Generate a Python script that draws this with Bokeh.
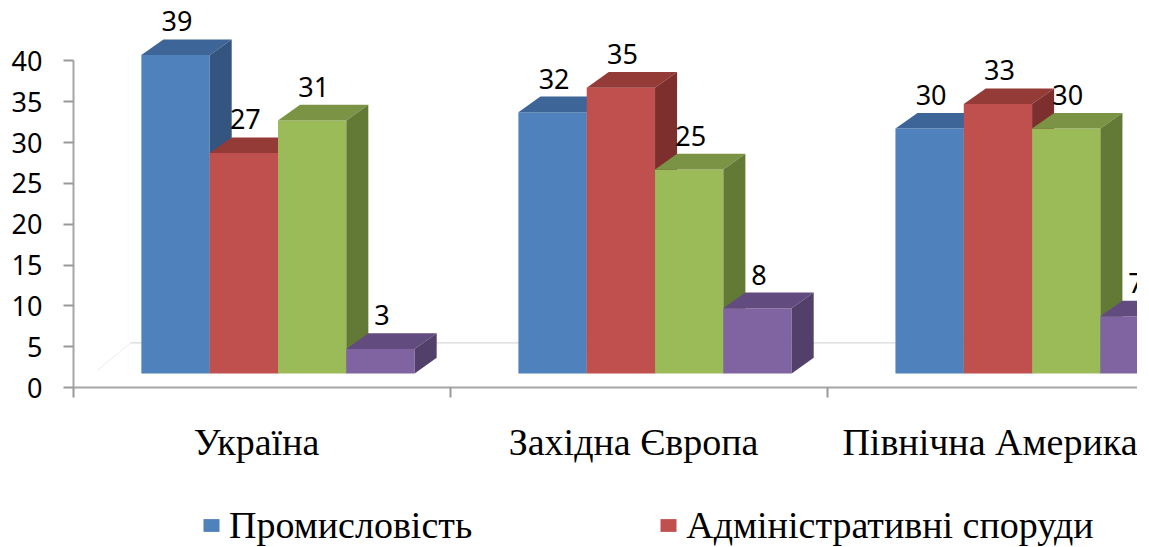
from bokeh.plotting import figure
from bokeh.layouts import column
from bokeh.models import FixedTicker, Range1d, Legend, LegendItem
from bokeh.embed import file_html
from bokeh.resources import INLINE
from bokeh.core.properties import value

# ---------------- data ----------------
categories = ["Україна", "Західна Європа", "Північна Америка"]
legend_names = ["Промисловість", "Адміністративні споруди"]
industry = [39, 32, 30]
admin = [27, 35, 33]
series3 = [31, 25, 30]
series4 = [3, 8, 7]
y_ticks = [0, 5, 10, 15, 20, 25, 30, 35, 40]

series = [industry, admin, series3, series4]
# (front, top, side) colours
colors = [
    ("#4F81BD", "#3E6597", "#34557F"),
    ("#C0504D", "#943A37", "#7D2F2D"),
    ("#9BBB59", "#7A9344", "#637936"),
    ("#8064A2", "#624B7E", "#52406B"),
]

# ---------------- geometry (layout constants) ----------------
X_END = 2.822      # visible part of the third category
Y_END = 46.42
B0 = 1.715         # raised floor of the 3D bars
DX = 0.0584        # depth offset in x (category units)
DY = 1.92          # depth offset in y (value units)
W = 0.1812         # bar width
G0 = 0.180         # offset of the first bar from the category start
LBL = 2.2          # gap between bar top and its value label (value units)
LABEL_SHIFT = -0.0146  # category labels sit slightly left of centre


def bar_geometry(j, vals):
    lefts = [i + G0 + j * W for i in range(len(vals))]
    rights = [l + W for l in lefts]
    tops = [v + B0 for v in vals]
    return lefts, rights, tops


p = figure(width=1137, height=480, output_backend="svg", toolbar_location=None,
           x_range=Range1d(0, X_END), y_range=Range1d(0, Y_END),
           min_border_left=73, min_border_right=0, min_border_top=8, min_border_bottom=93)
p.xgrid.visible = False
p.ygrid.visible = False
p.outline_line_color = None
p.background_fill_color = "white"

# floor / back wall edge
p.line(x=[0.064, 0.151], y=[2.12, 5.46], line_color="#EDEDED", line_width=1)
p.line(x=[0.151, X_END], y=[5.46, 5.46], line_color="#D9D9D9", line_width=1.2)

for j, vals in enumerate(series):
    fc, tc, sc = colors[j]
    lefts, rights, tops = bar_geometry(j, vals)
    p.quad(left=lefts, right=rights, bottom=B0, top=tops,
           fill_color=fc, line_color=None)
    top_xs = [[l, rr, rr + DX, l + DX] for l, rr in zip(lefts, rights)]
    top_ys = [[t, t, t + DY, t + DY] for t in tops]
    p.patches(xs=top_xs, ys=top_ys, fill_color=tc, line_color=None)
    side_xs = [[rr, rr + DX, rr + DX, rr] for rr in rights]
    side_ys = [[t, t + DY, B0 + DY, B0] for t in tops]
    p.patches(xs=side_xs, ys=side_ys, fill_color=sc, line_color=None)

for j, vals in enumerate(series):
    xs = [i + G0 + j * W + W / 2 + 0.004 for i in range(len(vals))]
    ys = [v + B0 + DY + LBL for v in vals]
    p.text(x=xs, y=ys, text=[str(v) for v in vals], text_align="center",
           text_baseline="alphabetic", text_font=value("Noto Sans"),
           text_font_size="27px", text_color="black")

# ---------------- axes ----------------
xa = p.xaxis[0]
label_pos = [i + 0.5 + LABEL_SHIFT for i in range(len(categories))]
xa.ticker = FixedTicker(ticks=label_pos, minor_ticks=list(range(len(categories))))
xa.major_label_overrides = {pos: c for pos, c in zip(label_pos, categories)}
xa.major_tick_out = 0
xa.major_tick_in = 0
xa.minor_tick_out = 10
xa.minor_tick_in = 0
xa.minor_tick_line_color = "#999999"
xa.minor_tick_line_width = 2
xa.axis_line_color = "#A6A6A6"
xa.axis_line_width = 2
xa.major_label_standoff = 23
xa.major_label_text_font = "Liberation Serif"
xa.major_label_text_font_size = "38px"
xa.major_label_text_color = "black"

ya = p.yaxis[0]
ya.ticker = FixedTicker(ticks=y_ticks)
ya.bounds = (0, 40)
ya.major_tick_out = 10
ya.major_tick_in = 0
ya.minor_tick_out = 0
ya.minor_tick_in = 0
ya.major_tick_line_color = "#999999"
ya.major_tick_line_width = 2
ya.axis_line_color = "#A6A6A6"
ya.axis_line_width = 2
ya.major_label_standoff = 21
ya.major_label_text_font = "Noto Sans"
ya.major_label_text_font_size = "27px"
ya.major_label_text_color = "black"

# ---------------- legend (separate strip under the chart) ----------------
p2 = figure(width=1137, height=67, output_backend="svg", toolbar_location=None,
            x_range=Range1d(0, 1), y_range=Range1d(0, 1),
            x_axis_location=None, y_axis_location=None,
            min_border_left=0, min_border_right=0, min_border_top=0, min_border_bottom=0)
p2.xgrid.visible = False
p2.ygrid.visible = False
p2.outline_line_color = None
leg_renderers = []
for k in range(len(legend_names)):
    lefts, rights, tops = bar_geometry(k, series[k])
    # same bars, but outside this strip's visible range: only their legend swatch shows
    leg_renderers.append(p2.quad(left=lefts, right=rights, bottom=B0, top=tops,
                                 fill_color=colors[k][0], line_color=None))

legend = Legend(items=[LegendItem(label=legend_names[k], renderers=[leg_renderers[k]])
                       for k in range(len(legend_names))],
                orientation="horizontal", location=(128, 0),
                label_text_font="Liberation Serif", label_text_font_size="38px",
                label_text_color="black",
                glyph_width=20, glyph_height=16, label_standoff=8, spacing=186,
                padding=0, margin=0, border_line_color=None,
                background_fill_alpha=0)
p2.add_layout(legend)

layout = column(p, p2, spacing=0)
open("out.html", "w").write(file_html(layout, INLINE))
